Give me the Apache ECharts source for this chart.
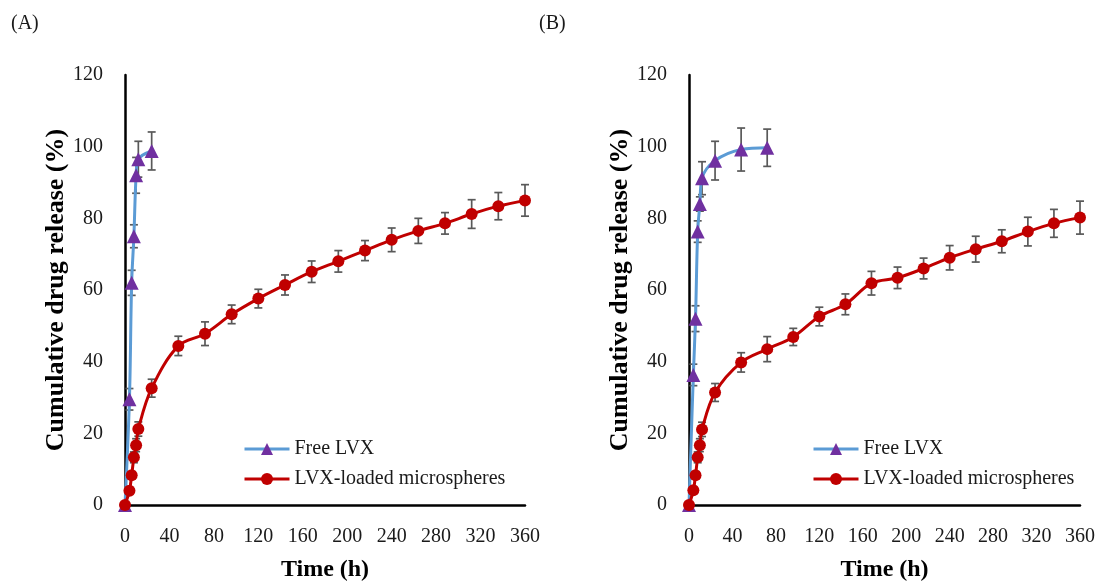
<!DOCTYPE html>
<html>
<head>
<meta charset="utf-8">
<script src="https://cdn.jsdelivr.net/npm/echarts@6/dist/echarts.min.js"></script>
<style>
html,body{margin:0;padding:0;background:#fff;}
#c{width:1099px;height:587px;}
</style>
</head>
<body>
<div id="c"></div>
<script>
// ---- Data ----
const xTicks = [0, 40, 80, 120, 160, 200, 240, 280, 320, 360];
const yTicks = [0, 20, 40, 60, 80, 100, 120];

// Panel A
const timeFreeA = [0, 4, 6, 8, 10, 12, 24];
const freeA     = [0, 29.5, 62, 75, 92, 96.5, 98.8];
const freeAErr  = [0, 3, 3.5, 3.2, 5, 5, 5.3];
const timeMicA  = [0, 4, 6, 8, 10, 12, 24, 48, 72, 96, 120, 144, 168, 192, 216, 240, 264, 288, 312, 336, 360];
const micA      = [0, 4, 8.3, 13.3, 16.7, 21.2, 32.6, 44.4, 47.8, 53.2, 57.6, 61.4, 65.1, 68, 71, 74, 76.5, 78.6, 81.2, 83.4, 85];
const micAErr   = [0, 0.8, 1, 1.5, 1.8, 2, 2.5, 2.7, 3.3, 2.6, 2.6, 2.8, 3, 3, 2.8, 3.3, 3.5, 3, 4, 3.8, 4.4];

// Panel B
const timeFreeB = [0, 4, 6, 8, 10, 12, 24, 48, 72];
const freeB     = [0, 36.3, 52, 76.3, 84, 91.2, 96.1, 99.2, 99.7];
const freeBErr  = [0, 3, 3.6, 3, 2, 4.6, 5.4, 6, 5.2];
const timeMicB  = [0, 4, 6, 8, 10, 12, 24, 48, 72, 96, 120, 144, 168, 192, 216, 240, 264, 288, 312, 336, 360];
const micB      = [0, 4.1, 8.3, 13.3, 16.7, 21.1, 31.4, 39.8, 43.5, 46.9, 52.6, 56, 61.9, 63.4, 66, 69, 71.4, 73.6, 76.3, 78.6, 80.2];
const micBErr   = [0, 0.8, 1, 1.5, 1.8, 2, 2.5, 2.7, 3.5, 2.4, 2.6, 2.9, 3.3, 3, 2.9, 3.4, 3.6, 3.2, 4, 3.9, 4.6];

const panelLabels = ['(A)', '(B)'];
const nameFree = 'Free LVX';
const nameMic = 'LVX-loaded microspheres';

// ---- Styles ----
const FONT = 'Liberation Serif';
const BLUE = '#5B9BD5', PURPLE = '#7030A0', RED = '#C00000', ERR = '#595959';

function pairs(t, v) { return t.map((x, i) => [x, v[i]]); }
function errData(t, v, e) { return t.map((x, i) => [x, v[i] - e[i], v[i] + e[i]]); }

function errRender(params, api) {
  const x = api.value(0);
  const lo = api.coord([x, api.value(1)]);
  const hi = api.coord([x, api.value(2)]);
  if (Math.abs(hi[1] - lo[1]) < 0.5) return null;
  const w = 4;
  const st = { stroke: ERR, lineWidth: 1.7 };
  return {
    type: 'group',
    children: [
      { type: 'line', shape: { x1: lo[0], y1: lo[1], x2: hi[0], y2: hi[1] }, style: st },
      { type: 'line', shape: { x1: lo[0] - w, y1: lo[1], x2: lo[0] + w, y2: lo[1] }, style: st },
      { type: 'line', shape: { x1: hi[0] - w, y1: hi[1], x2: hi[0] + w, y2: hi[1] }, style: st }
    ]
  };
}

const grids = [
  { left: 125, top: 75, width: 400, height: 435 },
  { left: 689, top: 75, width: 391, height: 435 }
];

function xAxis(i) {
  return {
    gridIndex: i, type: 'value', min: 0, max: 360, interval: 40,
    name: 'Time (h)', nameLocation: 'middle', nameGap: 53,
    nameTextStyle: { fontFamily: FONT, fontSize: 24, fontWeight: 'bold', color: '#000' },
    axisLine: { show: true, onZero: false, lineStyle: { color: '#000', width: 2.5 } },
    axisTick: { show: false },
    splitLine: { show: false },
    axisLabel: { fontFamily: FONT, fontSize: 20, color: '#1a1a1a', margin: 22,
      formatter: v => xTicks.includes(v) ? String(v) : '' }
  };
}
function yAxis(i) {
  return {
    gridIndex: i, type: 'value', min: 0, max: 120, interval: 20,
    name: 'Cumulative drug release (%)', nameLocation: 'middle', nameGap: 55,
    nameTextStyle: { fontFamily: FONT, fontSize: 26, fontWeight: 'bold', color: '#000' },
    axisLine: { show: true, onZero: false, lineStyle: { color: '#000', width: 2.5 } },
    axisTick: { show: false },
    splitLine: { show: false },
    axisLabel: { fontFamily: FONT, fontSize: 20, color: '#1a1a1a', margin: 22,
      formatter: v => yTicks.includes(v) ? String(v) : '' }
  };
}

function panelSeries(i, tf, f, fe, tm, m, me) {
  return [
    { type: 'custom', name: 'errFree' + i, xAxisIndex: i, yAxisIndex: i, renderItem: errRender,
      data: errData(tf, f, fe), z: 1, silent: true },
    { type: 'custom', name: 'errMic' + i, xAxisIndex: i, yAxisIndex: i, renderItem: errRender,
      data: errData(tm, m, me), z: 1, silent: true },
    { type: 'line', name: nameFree, xAxisIndex: i, yAxisIndex: i, data: pairs(tf, f),
      smooth: 0.35, symbol: 'triangle', symbolSize: 14,
      lineStyle: { color: BLUE, width: 3 }, itemStyle: { color: PURPLE },
      z: 3, animation: false },
    { type: 'line', name: nameMic, xAxisIndex: i, yAxisIndex: i, data: pairs(tm, m),
      smooth: 0.35, symbol: 'circle', symbolSize: 12,
      lineStyle: { color: RED, width: 3 }, itemStyle: { color: RED },
      z: 4, animation: false }
  ];
}

const legendCommon = {
  orient: 'vertical', itemWidth: 45, itemHeight: 15, itemGap: 10, padding: 0,
  lineStyle: { width: 3 },
  textStyle: { fontFamily: FONT, fontSize: 20, color: '#1a1a1a' },
  data: [nameFree, nameMic]
};

const option = {
  animation: false,
  backgroundColor: '#fff',
  title: [
    { text: panelLabels[0], left: 6, top: 9, textStyle: { fontFamily: FONT, fontSize: 20, fontWeight: 'normal', color: '#1a1a1a' } },
    { text: panelLabels[1], left: 534, top: 9, textStyle: { fontFamily: FONT, fontSize: 20, fontWeight: 'normal', color: '#1a1a1a' } }
  ],
  legend: [
    Object.assign({}, legendCommon, { left: 243, top: 439 }),
    Object.assign({}, legendCommon, { left: 812, top: 439 })
  ],
  grid: grids,
  xAxis: [xAxis(0), xAxis(1)],
  yAxis: [yAxis(0), yAxis(1)],
  series: [
    ...panelSeries(0, timeFreeA, freeA, freeAErr, timeMicA, micA, micAErr),
    ...panelSeries(1, timeFreeB, freeB, freeBErr, timeMicB, micB, micBErr)
  ]
};

const chart = echarts.init(document.getElementById('c'), null, { renderer: 'canvas' });
chart.setOption(option);
</script>
</body>
</html>
